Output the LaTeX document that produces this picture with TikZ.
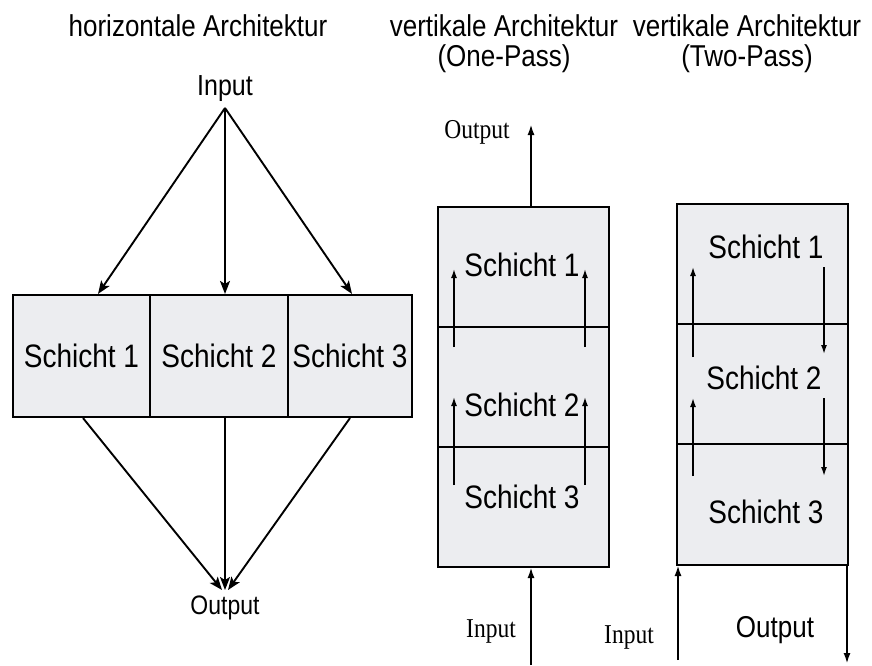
\documentclass[tikz,border=0pt]{standalone}
\usepackage{graphicx}
\usepackage{fontspec}
\setmainfont{Liberation Sans}
\newfontfamily\serifface{Liberation Serif}
\usetikzlibrary{arrows.meta}
\definecolor{layerfill}{RGB}{236,237,240}
% text in this figure is set slightly taller than wide
\newcommand{\tall}[1]{\scalebox{1}[1.16]{#1}}
\begin{document}
\begin{tikzpicture}[x=1pt,y=-1pt,
  titletext/.style={font=\fontsize{26}{28}\selectfont, inner sep=0pt},
  layertext/.style={font=\fontsize{28}{30}\selectfont, inner sep=0pt},
  iotext/.style={font=\fontsize{25}{27}\selectfont, inner sep=0pt},
  seriftext/.style={font=\serifface\fontsize{23.5}{25}\selectfont, inner sep=0pt},
  hbox/.style={draw, line width=2.1pt, fill=layerfill, minimum height=122pt, inner sep=0pt},
  vbox/.style={draw, line width=1.1pt, fill=layerfill},
  fan/.style={line width=1.9pt, -{Stealth[length=13pt,width=10pt,inset=3pt]}},
  inner/.style={line width=1.5pt, -{Latex[length=9pt,width=6pt]}},
  outer/.style={line width=2.3pt, -{Latex[length=11pt,width=7pt]}}
]
\path[use as bounding box] (0,0) rectangle (872,666);

% ---------- horizontal architecture ----------
\node[titletext] (t1) at (198,26) {\tall{horizontale Architektur}};
\node[iotext] (hin) at (225,89) {\tall{Input}};
\coordinate (hsrc) at (225,108);

\node[hbox, minimum width=137pt] (h1) at (81.5,356) {};
\node[hbox, minimum width=138pt] (h2) at (219,356) {};
\node[hbox, minimum width=124pt] (h3) at (350,356) {};
\node[layertext] (h1t) at (h1.center) {\tall{Schicht 1}};
\node[layertext] (h2t) at (h2.center) {\tall{Schicht 2}};
\node[layertext] (h3t) at (h3.center) {\tall{Schicht 3}};

\coordinate (hdst) at (225,590);
\node[iotext, font=\fontsize{23}{25}\selectfont] (hout) at (225,608) {\tall{Output}};

\draw[fan] (hsrc) -- (h1.north -| 98,0);
\draw[fan] (hsrc) -- (h2.north -| 225,0);
\draw[fan] (hsrc) -- (h3.north -| 352,0);
\draw[fan] (h1.south -| 83,0) -- ([xshift=-3pt]hdst);
\draw[fan] (h2.south -| 225,0) -- (hdst);
\draw[fan] (h3.south) -- ([xshift=3pt]hdst);

% ---------- vertical architecture, one pass ----------
\node[titletext] (t2a) at (504,26) {\tall{vertikale Architektur}};
\node[titletext] (t2b) at (504,59) {\tall{(One-Pass)}};
\path[vbox] (438,207) rectangle (609,567);
\draw[line width=1.1pt] (438,327) -- (609,327);
\draw[line width=1.1pt] (438,447) -- (609,447);
\node[layertext] (o1) at (522,265) {\tall{Schicht 1}};
\node[layertext] (o2) at (522,405) {\tall{Schicht 2}};
\node[layertext] (o3) at (522,497) {\tall{Schicht 3}};

\coordinate (otop) at (531,207);
\coordinate (oout) at (531,124);
\coordinate (obot) at (531,567);
\coordinate (oin) at (531,665);
\node[seriftext] (ooutl) at (477,132) {\tall{Output}};
\node[seriftext] (oinl) at (491,631) {\tall{Input}};
\draw[outer] (otop) -- (oout);
\draw[outer] (oin) -- (obot);

\coordinate (oa1) at (454,347); \coordinate (oa1e) at (454,269);
\coordinate (ob1) at (585,347); \coordinate (ob1e) at (585,269);
\coordinate (oa2) at (454,485); \coordinate (oa2e) at (454,397);
\coordinate (ob2) at (585,485); \coordinate (ob2e) at (585,397);
\draw[inner] (oa1) -- (oa1e);
\draw[inner] (ob1) -- (ob1e);
\draw[inner] (oa2) -- (oa2e);
\draw[inner] (ob2) -- (ob2e);

% ---------- vertical architecture, two pass ----------
\node[titletext] (t3a) at (747,26) {\tall{vertikale Architektur}};
\node[titletext] (t3b) at (747,59) {\tall{(Two-Pass)}};
\path[vbox] (677,204) rectangle (848,565);
\draw[line width=1.1pt] (677,324) -- (848,324);
\draw[line width=1.1pt] (677,444) -- (848,444);
\node[layertext] (w1) at (766,247) {\tall{Schicht 1}};
\node[layertext] (w2) at (764,378) {\tall{Schicht 2}};
\node[layertext] (w3) at (766,512) {\tall{Schicht 3}};

\coordinate (wbl) at (678,565);
\coordinate (win) at (678,660);
\coordinate (wbr) at (847,565);
\coordinate (wout) at (847,664);
\node[seriftext] (winl) at (629,637) {\tall{Input}};
\node[iotext, font=\fontsize{26}{28}\selectfont] (woutl) at (775,630) {\tall{Output}};
\draw[outer] (win) -- (wbl);
\draw[outer] (wbr) -- (wout);

\coordinate (wa1) at (693,357); \coordinate (wa1e) at (693,267);
\coordinate (wb1) at (824,267); \coordinate (wb1e) at (824,354);
\coordinate (wa2) at (693,476); \coordinate (wa2e) at (693,398);
\coordinate (wb2) at (824,398); \coordinate (wb2e) at (824,476);
\draw[inner] (wa1) -- (wa1e);
\draw[inner] (wb1) -- (wb1e);
\draw[inner] (wa2) -- (wa2e);
\draw[inner] (wb2) -- (wb2e);
\end{tikzpicture}
\end{document}
